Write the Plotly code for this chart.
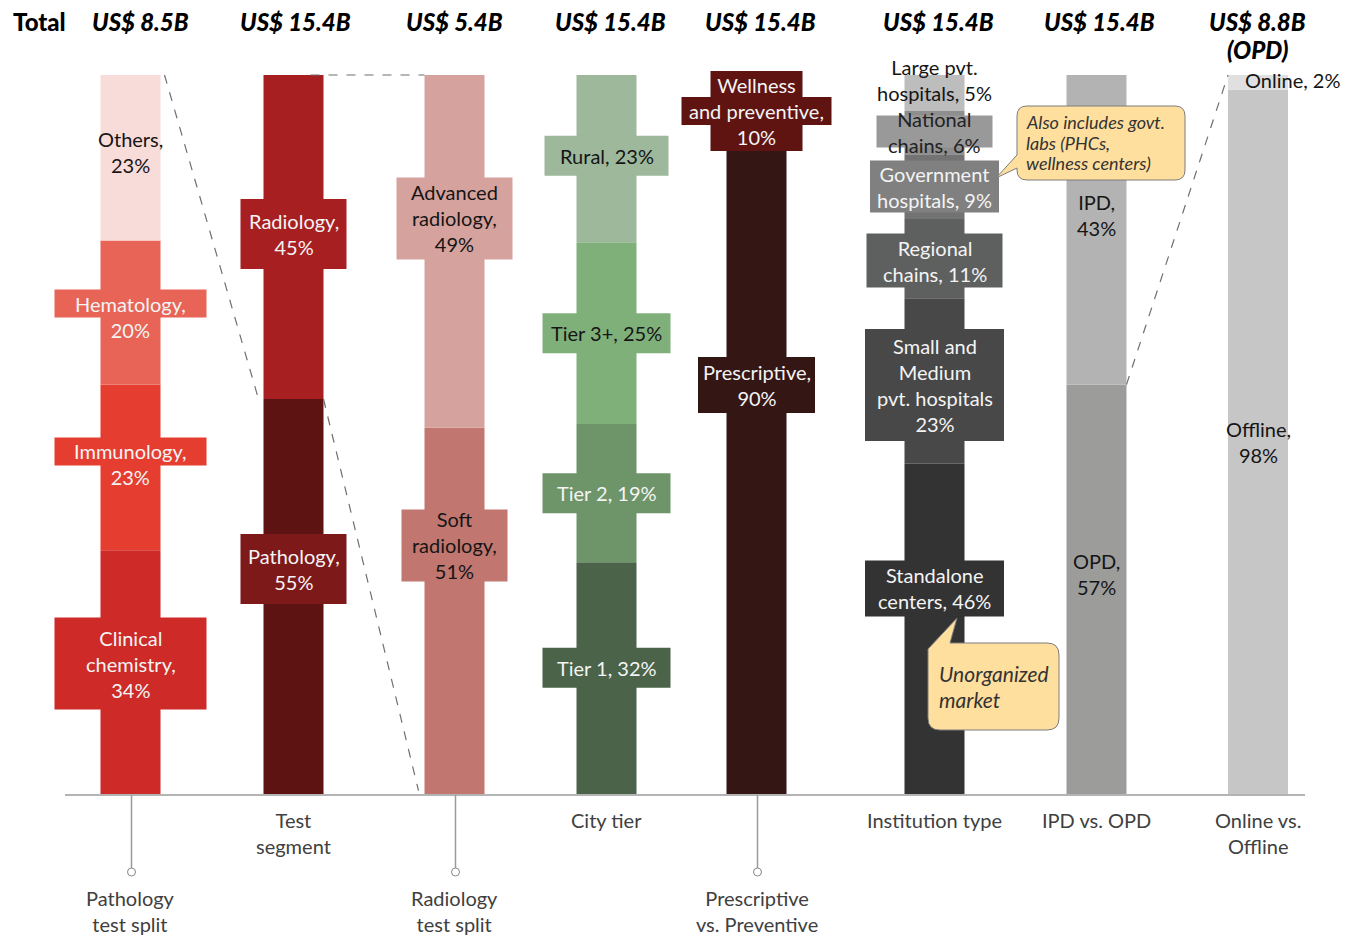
import plotly.graph_objects as go

# ---------------- data ----------------
panel_titles = ["Pathology<br>test split", "Test<br>segment", "Radiology<br>test split", "City tier",
                "Prescriptive<br>vs. Preventive", "Institution type", "IPD vs. OPD", "Online vs.<br>Offline"]
panel_totals = ["US$ 8.5B", "US$ 15.4B", "US$ 5.4B", "US$ 15.4B",
                "US$ 15.4B", "US$ 15.4B", "US$ 15.4B", "US$ 8.8B<br>(OPD)"]

# segments listed bottom -> top
pathology_split = ["Clinical chemistry", "Immunology", "Hematology", "Others"]
pathology_share = [34, 23, 20, 23]
test_segment = ["Pathology", "Radiology"]
test_share = [55, 45]
radiology_split = ["Soft radiology", "Advanced radiology"]
radiology_share = [51, 49]
city_tier = ["Tier 1", "Tier 2", "Tier 3+", "Rural"]
city_share = [32, 19, 25, 23]
test_purpose = ["Prescriptive", "Wellness and preventive"]
purpose_share = [90, 10]
institution = ["Standalone centers", "Small and Medium pvt. hospitals", "Regional chains",
               "Government hospitals", "National chains", "Large pvt. hospitals"]
institution_share = [46, 23, 11, 9, 6, 5]
patient_type = ["OPD", "IPD"]
patient_share = [57, 43]
channel = ["Offline", "Online"]
channel_share = [98, 2]

panels = [(pathology_split, pathology_share), (test_segment, test_share),
          (radiology_split, radiology_share), (city_tier, city_share),
          (test_purpose, purpose_share), (institution, institution_share),
          (patient_type, patient_share), (channel, channel_share)]

# ---------------- layout / style ----------------
FONT = "Lato"
W, H = 1368, 939
PAGE_OFFSET = 8      # the html body margin shifts the figure by this much
BASE_PX = 795        # pixel row of the baseline
PX_PER_PCT = 7.2     # 100% of a column = 720 px
BAR_W = 60
LINE_H = 26
PANEL_X = [130.5, 293.5, 454.5, 606.5, 756.5, 934.5, 1096.5, 1258]
HEAD_DX = [10, 2, 0, 4, 4, 4, 3, -1]
STEM = [True, False, True, False, True, False, False, False]
WHITE = "#f4f4f4"
DARK = "#151515"

# bar colour, label box colour, text colour, label lines, box width(s), box pad, vertical nudge (px)
SEG_STYLE = {
    "Clinical chemistry": dict(bar="#CD2A28", box="#CD2A28", fc=WHITE, lines=["Clinical", "chemistry,", "{v}%"], w=152, pad=7, dy=-9),
    "Immunology": dict(bar="#E53E31", box="#E53E31", fc=WHITE, lines=["Immunology,", "{v}%"], w=[152, None], dy=-3),
    "Hematology": dict(bar="#E76456", box="#E76456", fc=WHITE, lines=["Hematology,", "{v}%"], w=[152, None], dy=4),
    "Others": dict(bar="#F8DCD9", box=None, fc=DARK, lines=["Others,", "{v}%"], dy=-6),
    "Pathology": dict(bar="#5C1311", box="#7E191A", fc=WHITE, lines=["Pathology,", "{v}%"], w=106, pad=9, dy=-28),
    "Radiology": dict(bar="#A81F22", box="#A81F22", fc=WHITE, lines=["Radiology,", "{v}%"], w=106, pad=9, dy=-3),
    "Soft radiology": dict(bar="#C17670", box="#C17670", fc=DARK, lines=["Soft", "radiology,", "{v}%"], w=106, pad=-3, dy=-66),
    "Advanced radiology": dict(bar="#D6A29D", box="#D6A29D", fc=DARK, lines=["Advanced", "radiology,", "{v}%"], w=116, pad=2, dy=-33),
    "Tier 1": dict(bar="#4A6349", box="#4A6349", fc=WHITE, lines=["Tier 1, {v}%"], w=128, pad=7, dy=-11),
    "Tier 2": dict(bar="#6E956A", box="#6E956A", fc=WHITE, lines=["Tier 2, {v}%"], w=128, pad=7),
    "Tier 3+": dict(bar="#80B07A", box="#80B07A", fc=DARK, lines=["Tier 3+, {v}%"], w=128, pad=7),
    "Rural": dict(bar="#9DB89B", box="#9DB89B", fc=DARK, lines=["Rural, {v}%"], w=124, pad=7, dy=-3),
    "Prescriptive": dict(bar="#341614", box="#341614", fc=WHITE, lines=["Prescriptive,", "{v}%"], w=117, pad=2, dy=-86),
    "Wellness and preventive": dict(bar="#5F1412", box="#5F1412", fc=WHITE, lines=["Wellness", "and preventive,", "{v}%"], w=[92, 150, 92]),
    "Standalone centers": dict(bar="#333333", box="#333333", fc=WHITE, lines=["Standalone", "centers, {v}%"], w=139, pad=2, dy=-41),
    "Small and Medium pvt. hospitals": dict(bar="#484848", box="#484848", fc=WHITE, lines=["Small and", "Medium", "pvt. hospitals", "{v}%"], w=139, pad=4, dy=4),
    "Regional chains": dict(bar="#5E605F", box="#5E605F", fc=WHITE, lines=["Regional", "chains, {v}%"], w=136, pad=1, dy=2),
    "Government hospitals": dict(bar="#737373", box="#808080", fc=WHITE, lines=["Government", "hospitals, {v}%"], w=129, pad=0),
    "National chains": dict(bar="#8E8E8E", box="#999999", fc="#222222", lines=["National", "chains, {v}%"], w=116, pad=-10, dy=-1),
    "Large pvt. hospitals": dict(bar="#BDBDBD", box=None, fc=DARK, lines=["Large pvt.", "hospitals, {v}%"], dy=-13),
    "OPD": dict(bar="#9C9D9B", box=None, fc=DARK, lines=["OPD,", "{v}%"], dy=-16),
    "IPD": dict(bar="#B3B3B3", box=None, fc=DARK, lines=["IPD,", "{v}%"], dy=-15),
    "Offline": dict(bar="#C6C6C6", box=None, fc=DARK, lines=["Offline,", "{v}%"]),
    "Online": dict(bar="#E0E0E0", box=None, fc=DARK, lines=["Online, {v}%"], anchor="left", dx=-15, dy=-2),
}


def py(px):
    '''Pixel row of the page -> y-axis value (percent of a column).'''
    return (BASE_PX - px) / PX_PER_PCT


def add_box(fig, x0, top, x1, bottom, color):
    fig.add_shape(type="rect", x0=x0, x1=x1, y0=py(bottom), y1=py(top),
                  fillcolor=color, line=dict(width=0), layer="above")


def add_label(fig, x, yc, lines, st):
    '''Draws the label (and its box) centred at pixel row yc.'''
    n = len(lines)
    w = st.get("w")
    if st["box"] and isinstance(w, list):
        for k, wk in enumerate(w):
            if wk:
                ly = yc + (k - (n - 1) / 2) * LINE_H
                add_box(fig, x - wk / 2, ly - LINE_H / 2 - 1, x + wk / 2, ly + LINE_H / 2 + 1, st["box"])
    elif st["box"]:
        hh = n * LINE_H / 2 + st.get("pad", 2)
        add_box(fig, x - w / 2, yc - hh, x + w / 2, yc + hh, st["box"])
    anchor = st.get("anchor", "center")
    fig.add_annotation(x=x + st.get("dx", 0), y=py(yc), text="<br>".join(lines),
                       showarrow=False, xanchor=anchor, yanchor="middle", align=anchor,
                       font=dict(family=FONT, size=20, color=st["fc"]))


fig = go.Figure()

# stacked columns
for i, (names, shares) in enumerate(panels):
    total = sum(shares)
    cum = 0
    for name, v in zip(names, shares):
        h = v * 100 / total
        st = SEG_STYLE[name]
        fig.add_trace(go.Bar(x=[PANEL_X[i]], y=[h], base=[cum], width=BAR_W,
                             marker=dict(color=st["bar"], line=dict(width=0)),
                             hoverinfo="skip", showlegend=False))
        cum += h

# dashed funnel connectors
DASH = dict(color="#6f6f6f", width=1.2, dash="dash")
path_top = test_share[0] / sum(test_share) * 100
opd_top = patient_share[0] / sum(patient_share) * 100
links = [
    (PANEL_X[0] + BAR_W / 2 + 4, 100, PANEL_X[1] - BAR_W / 2 - 5, path_top),
    (PANEL_X[1] + BAR_W / 2, path_top, PANEL_X[2] - BAR_W / 2 - 6, 0.6),
    (PANEL_X[1] + 17, 100, PANEL_X[2] - BAR_W / 2, 100),
    (PANEL_X[6] + BAR_W / 2, opd_top, PANEL_X[7] - BAR_W / 2, 100),
]
for x0, y0, x1, y1 in links:
    fig.add_shape(type="line", x0=x0, y0=y0, x1=x1, y1=y1, line=DASH, layer="above")

# segment labels
for i, (names, shares) in enumerate(panels):
    total = sum(shares)
    cum = 0
    for name, v in zip(names, shares):
        h = v * 100 / total
        st = SEG_STYLE[name]
        yc = BASE_PX - (cum + h / 2) * PX_PER_PCT + st.get("dy", 0)
        add_label(fig, PANEL_X[i], yc, [s.format(v=v) for s in st["lines"]], st)
        cum += h

# baseline
fig.add_shape(type="line", x0=65, x1=1305, y0=0, y1=0, line=dict(color="#b4b4b4", width=2), layer="above")

# totals on top (one annotation per line, anchored inside the visible range)
HEAD_FONT = dict(family=FONT, size=24, color="#000000", weight=900)
HEAD_ROWS = [21, 49]
fig.add_annotation(x=39, y=py(HEAD_ROWS[0]), text="Total", showarrow=False,
                   xanchor="center", yanchor="middle", font=HEAD_FONT)
for x, dx, t in zip(PANEL_X, HEAD_DX, panel_totals):
    for row, part in zip(HEAD_ROWS, t.split("<br>")):
        fig.add_annotation(x=x + dx, y=py(row), text=part, showarrow=False,
                           xanchor="center", yanchor="middle",
                           font=dict(HEAD_FONT, style="italic"))

# panel names under the axis
for x, t, stem in zip(PANEL_X, panel_titles, STEM):
    if stem:
        fig.add_shape(type="line", x0=x + 1, x1=x + 1, y0=0, y1=py(868),
                      line=dict(color="#9a9a9a", width=1.5))
        fig.add_shape(type="circle", x0=x - 3, x1=x + 5, y0=py(868), y1=py(876),
                      line=dict(color="#888888", width=1), fillcolor="white")
    fig.add_annotation(x=x, y=py(884 if stem else 806), text=t, showarrow=False,
                       xanchor="center", yanchor="top", align="center",
                       font=dict(family=FONT, size=20, color="#404040"))


# call-out bubbles
def bubble_path(pts):
    parts = []
    for cmd, *xy in pts:
        coords = " ".join(f"{xy[j]:.2f},{py(xy[j + 1]):.4f}" for j in range(0, len(xy), 2))
        parts.append(f"{cmd} {coords}")
    return " ".join(parts) + " Z"


BUBBLE = dict(fillcolor="#FFDF9E", line=dict(color="#7c7c7c", width=1), layer="above")
NOTE_FONT = dict(family=FONT, color="#333333", style="italic")

x0, x1, y0, y1, r = 1017, 1185, 106, 180, 10
fig.add_shape(type="path", path=bubble_path([
    ("M", x0 + r, y0), ("L", x1 - r, y0), ("Q", x1, y0, x1, y0 + r), ("L", x1, y1 - r),
    ("Q", x1, y1, x1 - r, y1), ("L", x0 + r, y1), ("Q", x0, y1, x0, y1 - r),
    ("L", x0, y1 - 12), ("L", 996, 178), ("L", x0, y1 - 25), ("L", x0, y0 + r),
    ("Q", x0, y0, x0 + r, y0)]), **BUBBLE)
for row, line in zip([122, 143, 163], ["Also includes govt.", "labs (PHCs,", "wellness centers)"]):
    fig.add_annotation(x=1024, y=py(row), text=line, showarrow=False, xanchor="left",
                       yanchor="middle", font=dict(NOTE_FONT, size=18))

x0, x1, y0, y1, r = 928, 1059, 643, 730, 12
fig.add_shape(type="path", path=bubble_path([
    ("M", x0, y0 + 6), ("L", 957, 618), ("L", x0 + 22, y0), ("L", x1 - r, y0),
    ("Q", x1, y0, x1, y0 + r), ("L", x1, y1 - r), ("Q", x1, y1, x1 - r, y1),
    ("L", x0 + r, y1), ("Q", x0, y1, x0, y1 - r)]), **BUBBLE)
for row, line in zip([673, 699], ["Unorganized", "market"]):
    fig.add_annotation(x=937, y=py(row), text=line, showarrow=False, xanchor="left",
                       yanchor="middle", font=dict(NOTE_FONT, size=21))

fig.update_layout(
    width=W, height=H,
    margin=dict(l=0, r=0, t=0, b=0),
    barmode="overlay",
    plot_bgcolor="white", paper_bgcolor="white",
    xaxis=dict(range=[PAGE_OFFSET, W + PAGE_OFFSET], visible=False, fixedrange=True),
    yaxis=dict(range=[py(H + PAGE_OFFSET), py(PAGE_OFFSET)], visible=False, fixedrange=True),
    font=dict(family=FONT),
)

fig.write_html("out.html")
